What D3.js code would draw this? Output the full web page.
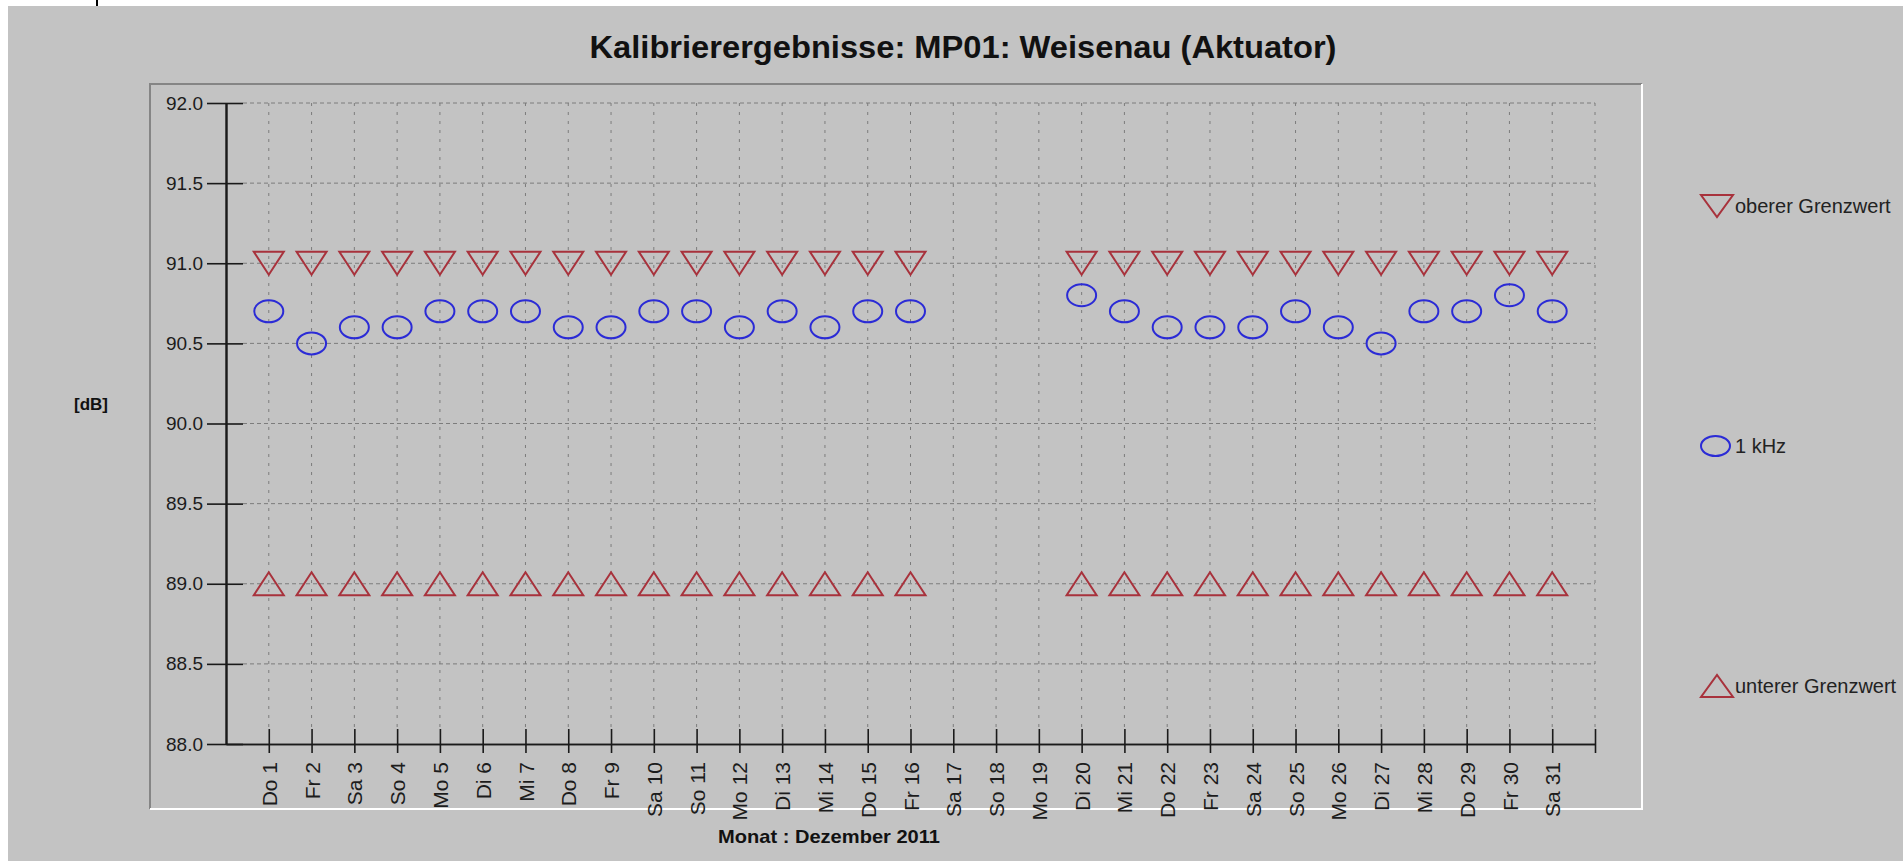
<!DOCTYPE html>
<html>
<head>
<meta charset="utf-8">
<script src="https://cdn.jsdelivr.net/npm/d3@7"></script>
<style>
  body { margin: 0; background: #c3c3c3; }
  svg { display: block; }
</style>
</head>
<body>
<script>
// Kalibrierergebnisse, Dezember 2011
var dayLabels = ["Do 1", "Fr 2", "Sa 3", "So 4", "Mo 5", "Di 6", "Mi 7", "Do 8", "Fr 9", "Sa 10",
	"So 11", "Mo 12", "Di 13", "Mi 14", "Do 15", "Fr 16", "Sa 17", "So 18", "Mo 19", "Di 20",
	"Mi 21", "Do 22", "Fr 23", "Sa 24", "So 25", "Mo 26", "Di 27", "Mi 28", "Do 29", "Fr 30", "Sa 31"];
var days = [1, 2, 3, 4, 5, 6, 7, 8, 9, 10, 11, 12, 13, 14, 15, 16, 17, 18, 19, 20,
	21, 22, 23, 24, 25, 26, 27, 28, 29, 30, 31];
var kHz1 = [90.7, 90.5, 90.6, 90.6, 90.7, 90.7, 90.7, 90.6, 90.6, 90.7, 90.7, 90.6, 90.7, 90.6, 90.7, 90.7,
	null, null, null, 90.8, 90.7, 90.6, 90.6, 90.6, 90.7, 90.6, 90.5, 90.7, 90.7, 90.8, 90.7];
var obererGrenzwert = [91.0, 91.0, 91.0, 91.0, 91.0, 91.0, 91.0, 91.0, 91.0, 91.0, 91.0, 91.0, 91.0, 91.0, 91.0, 91.0,
	null, null, null, 91.0, 91.0, 91.0, 91.0, 91.0, 91.0, 91.0, 91.0, 91.0, 91.0, 91.0, 91.0];
var untererGrenzwert = [89.0, 89.0, 89.0, 89.0, 89.0, 89.0, 89.0, 89.0, 89.0, 89.0, 89.0, 89.0, 89.0, 89.0, 89.0, 89.0,
	null, null, null, 89.0, 89.0, 89.0, 89.0, 89.0, 89.0, 89.0, 89.0, 89.0, 89.0, 89.0, 89.0];
var yTicks = [88.0, 88.5, 89.0, 89.5, 90.0, 90.5, 91.0, 91.5, 92.0];
var legendItems = [
	{name: "oberer Grenzwert", shape: "down"},
	{name: "1 kHz", shape: "circle"},
	{name: "unterer Grenzwert", shape: "up"}
];

var width = 1903, height = 861;
var red = "#a8323c", blue = "#2b2bd6", gridCol = "#7c7c7c";
var font = "'Liberation Sans', Arial, sans-serif";

var svg = d3.select("body").append("svg")
	.attr("width", width)
	.attr("height", height);

svg.append("rect").attr("width", width).attr("height", height).attr("fill", "#c3c3c3");
// screenshot edges
svg.append("rect").attr("width", width).attr("height", 6).attr("fill", "#ffffff");
svg.append("rect").attr("width", 8).attr("height", height).attr("fill", "#ffffff");
svg.append("rect").attr("x", 96).attr("width", 2).attr("height", 6).attr("fill", "#000");

// chart panel with bevel
var panel = {x0: 150, y0: 84, x1: 1642, y1: 809};
svg.append("path")
	.attr("d", "M" + panel.x0 + "," + panel.y1 + "V" + panel.y0 + "H" + panel.x1)
	.attr("fill", "none").attr("stroke", "#858585").attr("stroke-width", 2);
svg.append("path")
	.attr("d", "M" + panel.x1 + "," + panel.y0 + "V" + panel.y1 + "H" + panel.x0)
	.attr("fill", "none").attr("stroke", "#ffffff").attr("stroke-width", 2);

svg.append("text")
	.attr("x", 963).attr("y", 58)
	.attr("text-anchor", "middle")
	.attr("font-family", font).attr("font-weight", "bold").attr("font-size", 31)
	.attr("textLength", 747).attr("lengthAdjust", "spacingAndGlyphs")
	.attr("fill", "#111")
	.text("Kalibrierergebnisse: MP01: Weisenau (Aktuator)");

var x = d3.scaleLinear().domain([0, 32]).range([226, 1595]);
var y = d3.scaleLinear().domain([88, 92]).range([744, 103]);

// grid
var grid = svg.append("g");
grid.selectAll(".hgrid").data(yTicks.filter(function(d) { return d > 88; }))
	.enter().append("line")
	.attr("x1", 243).attr("x2", x(32))
	.attr("y1", function(d) { return y(d); }).attr("y2", function(d) { return y(d); })
	.attr("stroke", gridCol).attr("stroke-dasharray", "4,3");
grid.selectAll(".vgrid").data(days.concat([32]))
	.enter().append("line")
	.attr("x1", function(d) { return x(d); }).attr("x2", function(d) { return x(d); })
	.attr("y1", y(92)).attr("y2", y(88) - 15)
	.attr("stroke", gridCol).attr("stroke-dasharray", "3,6");

// axes (ticks cross the axis line, so draw both sides)
function styleAxis(g) {
	g.selectAll("path, line").attr("stroke", "#1a1a1a").attr("stroke-width", 1.6);
	g.selectAll("text").attr("fill", "#1c1c1c");
}

svg.append("g")
	.attr("transform", "translate(" + x(0) + ",0)")
	.call(d3.axisLeft(y).tickValues(yTicks).tickFormat(d3.format(".1f")).tickSize(19).tickSizeOuter(0).tickPadding(4))
	.call(styleAxis)
	.call(function(g) { g.selectAll("text").attr("font-family", font).attr("font-size", 19); })
	.call(function(g) { g.select(".domain").attr("stroke-width", 2.2); });
svg.append("g")
	.attr("transform", "translate(" + x(0) + ",0)")
	.call(d3.axisRight(y).tickValues(yTicks).tickFormat("").tickSize(17).tickSizeOuter(0))
	.call(styleAxis);

svg.append("g")
	.attr("transform", "translate(0," + y(88) + ")")
	.call(d3.axisBottom(x).tickValues(days.concat([32]))
		.tickFormat(function(d) { return d <= 31 ? dayLabels[d - 1] : ""; })
		.tickSize(9).tickSizeOuter(0))
	.call(styleAxis)
	.call(function(g) {
		g.selectAll("text")
			.attr("transform", "rotate(-90)")
			.attr("x", -18).attr("y", 0).attr("dy", "0.36em")
			.attr("text-anchor", "end")
			.attr("font-family", font).attr("font-size", 21);
	});
svg.append("g")
	.attr("transform", "translate(0," + y(88) + ")")
	.call(d3.axisTop(x).tickValues(days.concat([32])).tickFormat("").tickSize(15).tickSizeOuter(0))
	.call(styleAxis);

svg.append("text")
	.attr("x", 91).attr("y", 410)
	.attr("text-anchor", "middle")
	.attr("font-family", font).attr("font-weight", "bold").attr("font-size", 17)
	.attr("fill", "#111")
	.text("[dB]");

svg.append("text")
	.attr("x", 829).attr("y", 843)
	.attr("text-anchor", "middle")
	.attr("font-family", font).attr("font-weight", "bold").attr("font-size", 19)
	.attr("textLength", 222).attr("lengthAdjust", "spacingAndGlyphs")
	.attr("fill", "#111")
	.text("Monat : Dezember 2011");

// markers
function triangle(cx, cy, w, h, down) {
	var s = down ? 1 : -1;
	return "M" + (cx - w / 2) + "," + (cy - s * h / 2) +
		"L" + (cx + w / 2) + "," + (cy - s * h / 2) +
		"L" + cx + "," + (cy + s * h / 2) + "Z";
}

function series(values) {
	return days.map(function(d, i) { return {day: d, value: values[i]}; })
		.filter(function(p) { return p.value != null; });
}

var marks = svg.append("g").attr("fill", "none").attr("stroke-width", 2);

marks.selectAll(".upper").data(series(obererGrenzwert))
	.enter().append("path")
	.attr("d", function(p) { return triangle(x(p.day), y(p.value), 30, 23, true); })
	.attr("stroke", red);

marks.selectAll(".lower").data(series(untererGrenzwert))
	.enter().append("path")
	.attr("d", function(p) { return triangle(x(p.day), y(p.value), 30, 23, false); })
	.attr("stroke", red);

marks.selectAll(".khz").data(series(kHz1))
	.enter().append("ellipse")
	.attr("cx", function(p) { return x(p.day); })
	.attr("cy", function(p) { return y(p.value); })
	.attr("rx", 14.5).attr("ry", 11)
	.attr("stroke", blue);

// legend
var legendY = d3.scalePoint().domain(legendItems.map(function(d) { return d.name; })).range([206, 686]);
var leg = svg.append("g").selectAll("g").data(legendItems)
	.enter().append("g")
	.attr("transform", function(d) { return "translate(1717," + legendY(d.name) + ")"; });

leg.append("path")
	.filter(function(d) { return d.shape != "circle"; })
	.attr("d", function(d) { return triangle(0, 0, 32, 22, d.shape == "down"); })
	.attr("fill", "none").attr("stroke", red).attr("stroke-width", 2);
leg.filter(function(d) { return d.shape == "circle"; })
	.append("ellipse")
	.attr("cx", -1.5).attr("rx", 14.5).attr("ry", 10)
	.attr("fill", "none").attr("stroke", blue).attr("stroke-width", 2);
leg.append("text")
	.attr("x", 18).attr("y", 7)
	.attr("font-family", font).attr("font-size", 20)
	.attr("fill", "#222")
	.text(function(d) { return d.name; });
</script>
</body>
</html>
